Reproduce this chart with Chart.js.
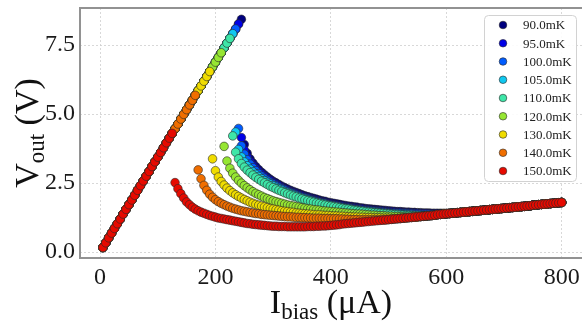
<!DOCTYPE html>
<html>
<head>
<meta charset="utf-8">
<title>TES I-V curves</title>
<script src="https://cdn.jsdelivr.net/npm/chart.js@4.4.1/dist/chart.umd.min.js"></script>
<style>
  html, body { margin: 0; padding: 0; background: #fff; }
  #ivChart { display: block; }
</style>
</head>
<body>
<canvas id="ivChart" width="582" height="323"></canvas>
<script>
'use strict';

// bias current sweep (uA)
var ibias = [
  5, 10, 15, 20, 25, 30, 35, 40, 45, 50, 55, 60, 65, 70, 75, 80, 85, 90, 95, 100,
  105, 110, 115, 120, 125, 130, 135, 140, 145, 150, 155, 160, 165, 170, 175, 180, 185, 190, 195, 200,
  205, 210, 215, 220, 225, 230, 235, 240, 245, 250, 255, 260, 265, 270, 275, 280, 285, 290, 295, 300,
  305, 310, 315, 320, 325, 330, 335, 340, 345, 350, 355, 360, 365, 370, 375, 380, 385, 390, 395, 400,
  405, 410, 415, 420, 425, 430, 435, 440, 445, 450, 455, 460, 465, 470, 475, 480, 485, 490, 495, 500,
  505, 510, 515, 520, 525, 530, 535, 540, 545, 550, 555, 560, 565, 570, 575, 580, 585, 590, 595, 600,
  605, 610, 615, 620, 625, 630, 635, 640, 645, 650, 655, 660, 665, 670, 675, 680, 685, 690, 695, 700,
  705, 710, 715, 720, 725, 730, 735, 740, 745, 750, 755, 760, 765, 770, 775, 780, 785, 790, 795, 800
];

var tempLabels = ['90.0mK', '95.0mK', '100.0mK', '105.0mK', '110.0mK', '120.0mK', '130.0mK', '140.0mK', '150.0mK'];
var tempColors = ['#00007f', '#0000e6', '#005cff', '#10c8f0', '#3ee6a8', '#96e632', '#f0dc00', '#f06e00', '#e60a00'];

// last bias point still on the superconducting branch, per temperature (uA)
var critCurrent = [245, 240, 235, 230, 225, 210, 190, 165, 125];

// superconducting branch, Vout at 5..245 uA
var superBranch = [
  0.17, 0.34, 0.52, 0.69, 0.86, 1.03, 1.20, 1.38, 1.55, 1.72,
  1.89, 2.06, 2.24, 2.41, 2.58, 2.75, 2.92, 3.10, 3.27, 3.44,
  3.61, 3.78, 3.96, 4.13, 4.30, 4.47, 4.64, 4.82, 4.99, 5.16,
  5.33, 5.50, 5.68, 5.85, 6.02, 6.19, 6.36, 6.54, 6.71, 6.88,
  7.05, 7.22, 7.40, 7.57, 7.74, 7.91, 8.08, 8.26, 8.43
];

// normal branch shared by all temperatures, Vout at 390..800 uA
var normalStart = 390;
var normalBranch = [
  0.95, 0.96, 0.97, 0.98, 0.99, 1.00, 1.02, 1.03, 1.04, 1.05,
  1.06, 1.07, 1.08, 1.09, 1.10, 1.11, 1.12, 1.13, 1.14, 1.15,
  1.16, 1.17, 1.18, 1.19, 1.20, 1.21, 1.22, 1.23, 1.24, 1.25,
  1.26, 1.27, 1.28, 1.29, 1.30, 1.31, 1.32, 1.33, 1.34, 1.36,
  1.37, 1.38, 1.39, 1.40, 1.41, 1.42, 1.43, 1.44, 1.45, 1.46,
  1.47, 1.48, 1.49, 1.50, 1.51, 1.52, 1.53, 1.54, 1.55, 1.56,
  1.57, 1.58, 1.59, 1.60, 1.61, 1.62, 1.63, 1.64, 1.65, 1.66,
  1.67, 1.68, 1.70, 1.71, 1.72, 1.73, 1.74, 1.75, 1.76, 1.77,
  1.78, 1.79, 1.80
];

// transition region, one point per 5 uA starting just after critCurrent
var trans90 = [
  3.90, 3.58, 3.38, 3.23, 3.10, 2.99, 2.89, 2.80, 2.72, 2.64,
  2.57, 2.51, 2.45, 2.39, 2.34, 2.29, 2.24, 2.20, 2.16, 2.12,
  2.08, 2.04, 2.01, 1.98, 1.95, 1.92, 1.89, 1.86, 1.84, 1.81,
  1.79, 1.77, 1.75, 1.73, 1.71, 1.69, 1.67, 1.66, 1.64, 1.63,
  1.61, 1.60, 1.58, 1.57, 1.56, 1.55, 1.54, 1.53, 1.52, 1.51,
  1.50, 1.49, 1.48, 1.47, 1.47, 1.46, 1.45, 1.45, 1.44, 1.44,
  1.43, 1.43, 1.42, 1.42, 1.42, 1.41, 1.41, 1.41, 1.41, 1.41,
  1.41, 1.41
];
var trans95 = [
  4.15, 3.70, 3.45, 3.28, 3.14, 3.02, 2.92, 2.83, 2.74, 2.66,
  2.59, 2.52, 2.46, 2.40, 2.34, 2.29, 2.24, 2.19, 2.15, 2.11,
  2.07, 2.03, 1.99, 1.96, 1.93, 1.90, 1.87, 1.84, 1.81, 1.79,
  1.76, 1.74, 1.72, 1.70, 1.68, 1.66, 1.64, 1.63, 1.61, 1.60,
  1.58, 1.57, 1.56, 1.54, 1.53, 1.52, 1.51, 1.50, 1.49, 1.48,
  1.47, 1.46, 1.46, 1.45, 1.44, 1.44, 1.43, 1.43, 1.42, 1.42,
  1.41, 1.41, 1.40, 1.40, 1.40, 1.39, 1.39, 1.39, 1.39, 1.39,
  1.39
];
var trans100 = [
  4.48, 3.85, 3.55, 3.35, 3.19, 3.06, 2.95, 2.85, 2.76, 2.68,
  2.60, 2.53, 2.47, 2.41, 2.35, 2.30, 2.25, 2.20, 2.15, 2.11,
  2.07, 2.03, 1.99, 1.96, 1.93, 1.89, 1.86, 1.83, 1.81, 1.78,
  1.76, 1.73, 1.71, 1.69, 1.67, 1.65, 1.63, 1.61, 1.60, 1.58,
  1.56, 1.55, 1.54, 1.52, 1.51, 1.50, 1.49, 1.48, 1.47, 1.46,
  1.45, 1.44, 1.43, 1.42, 1.42, 1.41, 1.41, 1.40, 1.40, 1.39,
  1.39, 1.38, 1.38, 1.38, 1.37, 1.37, 1.37, 1.37, 1.37, 1.37
];
var trans105 = [
  4.35, 3.72, 3.45, 3.27, 3.13, 3.01, 2.91, 2.82, 2.74, 2.66,
  2.59, 2.53, 2.47, 2.41, 2.35, 2.30, 2.25, 2.20, 2.16, 2.12,
  2.08, 2.04, 2.00, 1.96, 1.93, 1.90, 1.87, 1.84, 1.81, 1.79,
  1.76, 1.74, 1.71, 1.69, 1.67, 1.65, 1.63, 1.61, 1.59, 1.57,
  1.56, 1.54, 1.53, 1.51, 1.50, 1.48, 1.47, 1.46, 1.45, 1.44,
  1.43, 1.42, 1.41, 1.40, 1.39, 1.38, 1.38, 1.37, 1.36, 1.36,
  1.35, 1.35, 1.34, 1.34, 1.34, 1.33, 1.33, 1.33
];
var trans110 = [
  4.21, 3.62, 3.38, 3.21, 3.08, 2.97, 2.88, 2.79, 2.71, 2.64,
  2.57, 2.51, 2.45, 2.39, 2.34, 2.29, 2.24, 2.20, 2.15, 2.11,
  2.07, 2.03, 2.00, 1.96, 1.93, 1.90, 1.87, 1.84, 1.81, 1.78,
  1.76, 1.73, 1.71, 1.69, 1.67, 1.65, 1.63, 1.61, 1.59, 1.57,
  1.56, 1.54, 1.52, 1.51, 1.49, 1.48, 1.46, 1.45, 1.44, 1.43,
  1.42, 1.41, 1.40, 1.39, 1.38, 1.37, 1.36, 1.35, 1.34, 1.34,
  1.33, 1.33, 1.32, 1.32, 1.31, 1.31
];
var trans120 = [
  3.83, 3.30, 3.04, 2.86, 2.72, 2.60, 2.50, 2.41, 2.33, 2.26,
  2.19, 2.13, 2.08, 2.03, 1.98, 1.94, 1.90, 1.86, 1.83, 1.80,
  1.77, 1.74, 1.71, 1.69, 1.67, 1.65, 1.63, 1.61, 1.59, 1.57,
  1.56, 1.54, 1.53, 1.52, 1.50, 1.49, 1.48, 1.47, 1.46, 1.45,
  1.44, 1.43, 1.42, 1.41, 1.40, 1.39, 1.38, 1.38, 1.37, 1.36,
  1.35, 1.34, 1.34, 1.33, 1.32, 1.32, 1.31, 1.30, 1.30, 1.29,
  1.29, 1.28, 1.28, 1.27, 1.27
];
var trans130 = [
  3.38, 2.95, 2.72, 2.56, 2.43, 2.32, 2.23, 2.15, 2.08, 2.02,
  1.96, 1.91, 1.86, 1.81, 1.77, 1.73, 1.70, 1.67, 1.64, 1.61,
  1.58, 1.56, 1.54, 1.52, 1.50, 1.48, 1.47, 1.45, 1.44, 1.42,
  1.41, 1.40, 1.39, 1.38, 1.37, 1.36, 1.35, 1.35, 1.34, 1.33,
  1.33, 1.32, 1.31, 1.31, 1.30, 1.30, 1.29, 1.28, 1.28, 1.27,
  1.27, 1.26, 1.26, 1.25, 1.25, 1.25, 1.24, 1.24, 1.24, 1.23,
  1.23, 1.23, 1.22, 1.22, 1.22
];
var trans140 = [
  2.98, 2.66, 2.42, 2.24, 2.10, 1.99, 1.90, 1.83, 1.77, 1.72,
  1.67, 1.63, 1.59, 1.56, 1.53, 1.50, 1.48, 1.46, 1.44, 1.42,
  1.40, 1.39, 1.37, 1.36, 1.35, 1.34, 1.33, 1.32, 1.31, 1.30,
  1.29, 1.28, 1.28, 1.27, 1.26, 1.26, 1.25, 1.25, 1.24, 1.24,
  1.23, 1.23, 1.23, 1.22, 1.22, 1.22, 1.21, 1.21, 1.21, 1.20,
  1.20, 1.19, 1.19, 1.18, 1.18, 1.18, 1.17, 1.17, 1.17, 1.17,
  1.17, 1.17, 1.17, 1.17, 1.17, 1.17
];
var trans150 = [
  2.52, 2.30, 2.12, 1.96, 1.82, 1.72, 1.63, 1.56, 1.50, 1.45,
  1.41, 1.37, 1.33, 1.30, 1.27, 1.24, 1.22, 1.20, 1.18, 1.16,
  1.14, 1.12, 1.10, 1.08, 1.06, 1.04, 1.03, 1.01, 1.00, 0.99,
  0.98, 0.97, 0.96, 0.95, 0.94, 0.94, 0.93, 0.93, 0.93, 0.92,
  0.92, 0.92, 0.92, 0.92, 0.92, 0.92, 0.93, 0.93, 0.93, 0.94,
  0.94, 0.95
];
var transitions = [trans90, trans95, trans100, trans105, trans110, trans120, trans130, trans140, trans150];

var xTicks = [0, 200, 400, 600, 800];
var yTicks = [0, 2.5, 5.0, 7.5];

var SERIF = '"Liberation Serif", "DejaVu Serif", serif';

// stitch one temperature's curve from the three branches
function buildSeries(ic, trans) {
  var icIdx = ibias.indexOf(ic);
  var normIdx = ibias.indexOf(normalStart);
  var pts = [];
  for (var k = 0; k < ibias.length; k++) {
    var v;
    if (k <= icIdx) {
      v = superBranch[k];
    } else if (k - icIdx - 1 < trans.length) {
      v = trans[k - icIdx - 1];
    } else {
      v = normalBranch[k - normIdx];
    }
    pts.push({ x: ibias[k], y: v });
  }
  return pts;
}

var datasets = [];
for (var i = 0; i < tempLabels.length; i++) {
  datasets.push({
    label: tempLabels[i],
    data: buildSeries(critCurrent[i], transitions[i]),
    backgroundColor: tempColors[i],
    borderColor: 'rgba(40,40,40,0.75)',
    borderWidth: 0.8,
    pointRadius: 4.3,
    showLine: false,
    order: tempLabels.length - 1 - i   // hottest on top
  });
}

// draw text made of pieces with different sizes (for subscripts)
function drawPieces(ctx, pieces) {
  var total = 0;
  pieces.forEach(function(p) {
    ctx.font = p.size + 'px ' + SERIF;
    p.w = ctx.measureText(p.text).width;
    total += p.w;
  });
  var x = -total / 2;
  pieces.forEach(function(p) {
    ctx.font = p.size + 'px ' + SERIF;
    ctx.fillText(p.text, x, p.dy || 0);
    x += p.w;
  });
}

var decorations = {
  id: 'decorations',
  afterDraw: function(chart) {
    var ctx = chart.ctx;
    var area = chart.chartArea;
    ctx.save();

    // axes frame (left, top, bottom)
    ctx.strokeStyle = '#929292';
    ctx.lineWidth = 2;
    ctx.beginPath();
    ctx.moveTo(area.right, area.top);
    ctx.lineTo(area.left, area.top);
    ctx.lineTo(area.left, area.bottom);
    ctx.lineTo(area.right, area.bottom);
    ctx.stroke();

    // legend box
    ctx.fillStyle = 'rgba(255,255,255,0.9)';
    ctx.strokeStyle = '#d2d2d2';
    ctx.lineWidth = 1;
    ctx.beginPath();
    ctx.roundRect(484.5, 15.5, 92, 166, 4);
    ctx.fill();
    ctx.stroke();

    ctx.textBaseline = 'middle';
    ctx.textAlign = 'left';
    for (var j = 0; j < tempLabels.length; j++) {
      var ry = 25 + j * 18.25;
      ctx.beginPath();
      ctx.arc(503, ry, 3.8, 0, Math.PI * 2);
      ctx.fillStyle = tempColors[j];
      ctx.fill();
      ctx.strokeStyle = 'rgba(40,40,40,0.75)';
      ctx.lineWidth = 0.8;
      ctx.stroke();
      ctx.fillStyle = '#222';
      ctx.font = '13px ' + SERIF;
      ctx.fillText(tempLabels[j], 523, ry + 1);
    }

    // axis titles
    ctx.fillStyle = '#111';
    ctx.textBaseline = 'alphabetic';
    ctx.save();
    ctx.translate((area.left + area.right) / 2, 313);
    drawPieces(ctx, [
      { text: 'I', size: 34 },
      { text: 'bias', size: 23, dy: 6 },
      { text: ' (\u03bcA)', size: 34 }
    ]);
    ctx.restore();

    ctx.save();
    ctx.translate(38, (area.top + area.bottom) / 2);
    ctx.rotate(-Math.PI / 2);
    drawPieces(ctx, [
      { text: 'V', size: 34 },
      { text: 'out', size: 23, dy: 6 },
      { text: ' (V)', size: 34 }
    ]);
    ctx.restore();

    ctx.restore();
  }
};

var ctx = document.getElementById('ivChart').getContext('2d');
var chart = new Chart(ctx, {
  type: 'scatter',
  data: { datasets: datasets },
  options: {
    responsive: false,
    animation: false,
    events: [],
    layout: { autoPadding: false, padding: { left: 0, top: 8, right: 0, bottom: 0 } },
    plugins: {
      legend: { display: false },
      tooltip: { enabled: false }
    },
    scales: {
      x: {
        type: 'linear',
        min: -34.7,
        max: 835.2,
        afterFit: function(s) { s.height = 65; s.paddingLeft = 0; s.paddingRight = 0; },
        afterBuildTicks: function(s) { s.ticks = xTicks.map(function(v) { return { value: v }; }); },
        grid: { color: '#cfcfcf', lineWidth: 0.8, drawTicks: false },
        border: { display: false, dash: [2, 2] },
        ticks: {
          padding: 5,
          color: '#1a1a1a',
          font: { family: SERIF, size: 24 },
          callback: function(v) { return String(v); }
        }
      },
      y: {
        type: 'linear',
        min: -0.21,
        max: 8.84,
        afterFit: function(s) { s.width = 80; s.paddingTop = 0; s.paddingBottom = 0; },
        afterBuildTicks: function(s) { s.ticks = yTicks.map(function(v) { return { value: v }; }); },
        grid: { color: '#cfcfcf', lineWidth: 0.8, drawTicks: false },
        border: { display: false, dash: [2, 2] },
        ticks: {
          padding: 5,
          color: '#1a1a1a',
          font: { family: SERIF, size: 24 },
          callback: function(v) { return Number(v).toFixed(1); }
        }
      }
    }
  },
  plugins: [decorations]
});
</script>
</body>
</html>
